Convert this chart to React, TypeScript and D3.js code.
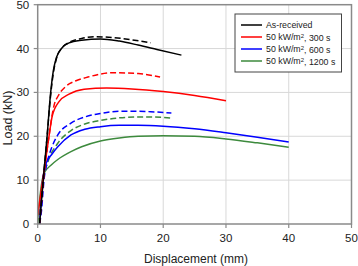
import React from "react";
import * as d3 from "d3";

type Pt = [number, number];

const xTicks = [0, 10, 20, 30, 40, 50];
const yTicks = [0, 10, 20, 30, 40, 50];

const seriesNames = [
  "As-received",
  "50 kW/m², 300 s",
  "50 kW/m², 600 s",
  "50 kW/m², 1200 s",
];
const seriesColors = ["#000000", "#ff0000", "#0000ff", "#3d8a3d"];

const blackSolid: Pt[] = [[0.3,0],[1,12],[1.5,20],[2,29],[2.5,35],[3,38],[3.9,40.2],[5,41.3],[7,41.9],[10,42.2],[13,41.7],[16,40.8],[19,39.8],[22.9,38.5]];
const blackDashed: Pt[] = [[0.3,0],[1,12],[1.5,20],[2,28.5],[2.5,34.5],[3,37.8],[3.9,40.2],[5,41.4],[7,42.3],[9,42.7],[12,42.5],[15,42],[18,41.3]];
const redSolid: Pt[] = [[0,2],[1,12],[1.8,20],[2.3,24.5],[3.4,27.9],[5,29.6],[7.4,30.7],[11,31],[15,30.8],[20,30.2],[25,29.3],[30,28.1]];
const redDashed: Pt[] = [[0.3,0],[1,11],[1.8,20],[2.6,27],[3.3,29.3],[4.5,31.4],[6,32.6],[8,33.5],[12,34.5],[16,34.3],[19.5,33.5]];
const blueSolid: Pt[] = [[0.3,0],[0.8,10],[1.4,14],[2.2,15.8],[3.2,17.6],[5.3,20.3],[7.5,21.6],[10,22.2],[13,22.5],[16,22.5],[20,22.3],[25,21.7],[30,20.8],[35,19.8],[40,18.7]];
const blueDashed: Pt[] = [[0.3,0],[0.6,3],[1,10],[1.5,14],[2.2,17.3],[3.2,20.3],[5.3,23],[7.5,24.4],[10,25.2],[13,25.7],[16,25.7],[18,25.6],[21.3,25.3]];
const greenSolid: Pt[] = [[0,1],[0.6,9],[1,11.5],[2.2,13.5],[3.2,14.7],[5.3,16.5],[7,17.6],[10,18.9],[13,19.6],[16,20],[20,20.1],[25,20],[30,19.4],[35,18.5],[40,17.5]];
const greenDashed: Pt[] = [[0,0],[1,11],[1.7,14.5],[3.2,18.4],[5.3,21.3],[7.5,22.8],[10,23.6],[13,24.2],[16,24.4],[18,24.4],[21.5,24.1]];

const curves = [
  { data: greenSolid, color: 3, dashed: false },
  { data: greenDashed, color: 3, dashed: true },
  { data: blueSolid, color: 2, dashed: false },
  { data: blueDashed, color: 2, dashed: true },
  { data: redSolid, color: 1, dashed: false },
  { data: redDashed, color: 1, dashed: true },
  { data: blackSolid, color: 0, dashed: false },
  { data: blackDashed, color: 0, dashed: true },
];

export default function App() {
  const W = 358, H = 266;
  const left = 37.7, right = 351.5, top = 4.7, bottom = 224;
  const x = d3.scaleLinear().domain([0, 50]).range([left, right]);
  const y = d3.scaleLinear().domain([0, 50]).range([bottom, top]);
  const line = d3.line<Pt>().x(d => x(d[0])).y(d => y(d[1])).curve(d3.curveMonotoneX);
  const font = "Arial, 'Liberation Sans', sans-serif";
  const axisColor = "#8a8a8a";

  return (
    <svg width={W} height={H} style={{ position: "absolute", left: 0, top: 0 }} fontFamily={font}>
      <rect x={0} y={0} width={W} height={H} fill="#fff" />
      {xTicks.slice(1, -1).map(t => (
        <line key={"gx" + t} x1={x(t)} x2={x(t)} y1={top} y2={bottom} stroke="#d8d8d8" strokeWidth={1} />
      ))}
      {yTicks.slice(1, -1).map(t => (
        <line key={"gy" + t} x1={left} x2={right} y1={y(t)} y2={y(t)} stroke="#d8d8d8" strokeWidth={1} />
      ))}
      {curves.map((c, i) => (
        <path key={i} d={line(c.data) || ""} fill="none" stroke={seriesColors[c.color]}
          strokeWidth={1.5} strokeDasharray={c.dashed ? "6,3" : undefined} />
      ))}
      <rect x={left} y={top} width={right - left} height={bottom - top} fill="none" stroke={axisColor} strokeWidth={1.5} />
      {yTicks.map(t => (
        <g key={"yt" + t}>
          <line x1={left - 4} x2={left} y1={y(t)} y2={y(t)} stroke={axisColor} strokeWidth={1.2} />
          <text x={left - 8.5} y={y(t)} dy="0.35em" textAnchor="end" fontSize={11.5} fill="#222">{t}</text>
        </g>
      ))}
      {xTicks.map(t => (
        <g key={"xt" + t}>
          <line x1={x(t)} x2={x(t)} y1={bottom} y2={bottom + 4} stroke={axisColor} strokeWidth={1.2} />
          <text x={x(t)} y={bottom + 13.5} dy="0.35em" textAnchor="middle" fontSize={11.5} fill="#222">{t}</text>
        </g>
      ))}
      <text x={196} y={259} dy="0.35em" textAnchor="middle" fontSize={12} fill="#222">Displacement (mm)</text>
      <text transform={`translate(7.5,118) rotate(-90)`} dy="0.35em" textAnchor="middle" fontSize={12.5} fill="#222">Load (kN)</text>
      <g>
        <rect x={235} y={14} width={106.5} height={58} fill="#fff" stroke="#444" strokeWidth={1} />
        {seriesNames.map((n, i) => {
          const ry = 25 + i * 12;
          const parts = n.split("²");
          return (
            <g key={n}>
              <line x1={241} x2={262} y1={ry} y2={ry} stroke={seriesColors[i]} strokeWidth={1.5} />
              <text x={266} y={ry} dy="0.35em" fontSize={8.8} fill="#222">
                {parts.length > 1 ? (
                  <>
                    {parts[0]}
                    <tspan dy="-0.35em" fontSize={6}>2</tspan>
                    <tspan dy="0.35em">{parts[1]}</tspan>
                  </>
                ) : n}
              </text>
            </g>
          );
        })}
      </g>
    </svg>
  );
}
